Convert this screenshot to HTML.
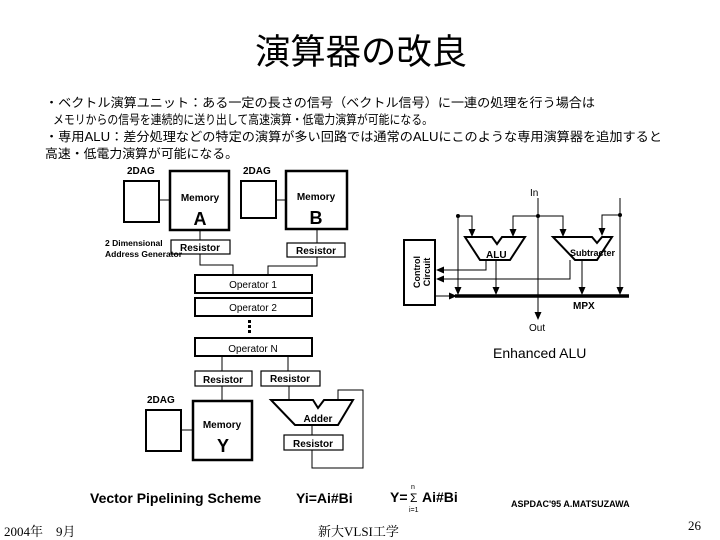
<!DOCTYPE html>
<html><head><meta charset="utf-8"><style>
html,body{margin:0;padding:0;background:#fff}
svg{display:block}
.j{font-family:"Liberation Sans","Noto Sans CJK JP",sans-serif}
.a{font-family:"Liberation Sans",sans-serif;font-weight:bold}
</style></head><body>
<svg width="720" height="540" viewBox="0 0 720 540" xmlns="http://www.w3.org/2000/svg">
<defs><marker id="ar" markerWidth="8" markerHeight="8" refX="7" refY="4" orient="auto" markerUnits="userSpaceOnUse"><path d="M0,0.5 L8,4 L0,7.5z" fill="#000"/></marker></defs>
<text x="361" y="64" class="j" font-size="35" text-anchor="middle" textLength="212" lengthAdjust="spacingAndGlyphs">演算器の改良</text>
<g class="j" font-size="12.5">
<text x="45" y="107" textLength="550" lengthAdjust="spacingAndGlyphs">・ベクトル演算ユニット：ある一定の長さの信号（ベクトル信号）に一連の処理を行う場合は</text>
<text x="53" y="124" textLength="380" lengthAdjust="spacingAndGlyphs">メモリからの信号を連続的に送り出して高速演算・低電力演算が可能になる。</text>
<text x="45" y="141" textLength="617" lengthAdjust="spacingAndGlyphs">・専用ALU：差分処理などの特定の演算が多い回路では通常のALUにこのような専用演算器を追加すると</text>
<text x="45" y="158" textLength="193" lengthAdjust="spacingAndGlyphs">高速・低電力演算が可能になる。</text>
</g>
<g fill="none" stroke="#000">
<rect x="124" y="181" width="35" height="41" stroke-width="2"/>
<rect x="170" y="171" width="59" height="59" stroke-width="2.5"/>
<rect x="241" y="181" width="35" height="37" stroke-width="2"/>
<rect x="286" y="171" width="61" height="58" stroke-width="2.5"/>
<line x1="159" y1="200" x2="170" y2="200" stroke-width="1"/>
<line x1="276" y1="200" x2="286" y2="200" stroke-width="1"/>
<rect x="171" y="240" width="59" height="14" stroke-width="1.2"/>
<rect x="287" y="243" width="58" height="14" stroke-width="1.2"/>
<path d="M200 230V240M200 254V265H233V275M317 229V243M317 257V266H268V275" stroke-width="1"/>
<rect x="195" y="275" width="117" height="18" stroke-width="2"/>
<rect x="195" y="298" width="117" height="18" stroke-width="2"/>
<rect x="195" y="338" width="117" height="18" stroke-width="2"/>
<path d="M222 356V371M288 356V371M222 386V401" stroke-width="1"/>
<rect x="195" y="371" width="57" height="15" stroke-width="1.2"/>
<rect x="261" y="371" width="59" height="15" stroke-width="1.2"/>
<rect x="146" y="410" width="35" height="41" stroke-width="2"/>
<rect x="193" y="401" width="59" height="59" stroke-width="2.5"/>
<line x1="181" y1="430" x2="193" y2="430" stroke-width="1"/>
<path d="M271 400H313L318 408L324 400H353L338 425H295Z" stroke-width="2"/>
<path d="M289 386V400M312 425V435M312 450V468H363V390H338V400" stroke-width="1"/>
<rect x="284" y="435" width="59" height="15" stroke-width="1.2"/>
<rect x="404" y="240" width="31" height="65" stroke-width="2"/>
<path d="M465 237H492L497 244L502 237H525L510 260H480Z" stroke-width="2"/>
<path d="M553 237H592L597 243L602 237H612L597 260H575Z" stroke-width="2"/>
<line x1="455" y1="296" x2="629" y2="296" stroke-width="3.5"/>
<g stroke-width="1">
<line x1="538" y1="198" x2="538" y2="319" marker-end="url(#ar)"/>
<line x1="458" y1="216" x2="458" y2="294" marker-end="url(#ar)"/>
<path d="M458 216H472V236" marker-end="url(#ar)"/>
<path d="M538 216H513V236" marker-end="url(#ar)"/>
<path d="M538 216H563V236" marker-end="url(#ar)"/>
<line x1="620" y1="198" x2="620" y2="294" marker-end="url(#ar)"/>
<path d="M620 215H602V235" marker-end="url(#ar)"/>
<path d="M486 260V270H437" marker-end="url(#ar)"/>
<path d="M570 260V279H437" marker-end="url(#ar)"/>
<line x1="496" y1="260" x2="496" y2="294" marker-end="url(#ar)"/>
<line x1="582" y1="260" x2="582" y2="294" marker-end="url(#ar)"/>
<line x1="435" y1="296" x2="456" y2="296" marker-end="url(#ar)"/>
</g>
</g>
<g fill="#000">
<circle cx="458" cy="216" r="2"/><circle cx="538" cy="216" r="2"/><circle cx="620" cy="215" r="2"/>
<rect x="248" y="320" width="3" height="3"/><rect x="248" y="325" width="3" height="3"/><rect x="248" y="330" width="3" height="3"/>
</g>
<g class="a" font-size="10">
<text x="127" y="174">2DAG</text><text x="243" y="174">2DAG</text><text x="147" y="403">2DAG</text>
<text x="200" y="201" text-anchor="middle">Memory</text>
<text x="316" y="200" text-anchor="middle">Memory</text>
<text x="105" y="246" font-size="8.5">2 Dimensional</text>
<text x="105" y="257" font-size="8.5">Address Generator</text>
<text x="200" y="251" text-anchor="middle">Resistor</text>
<text x="316" y="254" text-anchor="middle">Resistor</text>
<text x="253" y="288" text-anchor="middle" font-weight="normal">Operator 1</text>
<text x="253" y="311" text-anchor="middle" font-weight="normal">Operator 2</text>
<text x="253" y="352" text-anchor="middle" font-weight="normal">Operator N</text>
<text x="223" y="383" text-anchor="middle">Resistor</text>
<text x="290" y="382" text-anchor="middle">Resistor</text>
<text x="222" y="428" text-anchor="middle">Memory</text>
<text x="318" y="422" text-anchor="middle">Adder</text>
<text x="313" y="447" text-anchor="middle">Resistor</text>
<text x="530" y="196" font-weight="normal">In</text>
<text x="529" y="331" font-weight="normal">Out</text>
<text x="486" y="258">ALU</text>
<text x="570" y="256" font-size="9">Subtracter</text>
<text x="573" y="309">MPX</text>
<text transform="translate(420,272) rotate(-90)" text-anchor="middle" font-size="9">Control</text>
<text transform="translate(430,272) rotate(-90)" text-anchor="middle" font-size="9">Circuit</text>
</g>
<g class="a" font-size="18" text-anchor="middle">
<text x="200" y="225">A</text><text x="316" y="224">B</text><text x="223" y="452">Y</text>
</g>
<g class="a">
<text x="90" y="503" font-size="14">Vector Pipelining Scheme</text>
<text x="296" y="503" font-size="14">Yi=Ai#Bi</text>
<text x="493" y="358" font-size="14" font-weight="normal">Enhanced ALU</text>
<text x="390" y="502" font-size="14">Y=</text>
<text x="410" y="502" font-size="12" font-weight="normal">Σ</text>
<text x="411" y="489" font-size="7" font-weight="normal">n</text>
<text x="409" y="512" font-size="7" font-weight="normal">i=1</text>
<text x="422" y="502" font-size="14">Ai#Bi</text>
<text x="511" y="507" font-size="9">ASPDAC'95 A.MATSUZAWA</text>
</g>
<g font-family="Liberation Serif,'Noto Serif CJK SC',serif" font-size="13">
<text x="4" y="536">2004年　9月</text>
<text x="318" y="536">新大VLSI工学</text>
<text x="688" y="530">26</text>
</g>
</svg>
</body></html>
